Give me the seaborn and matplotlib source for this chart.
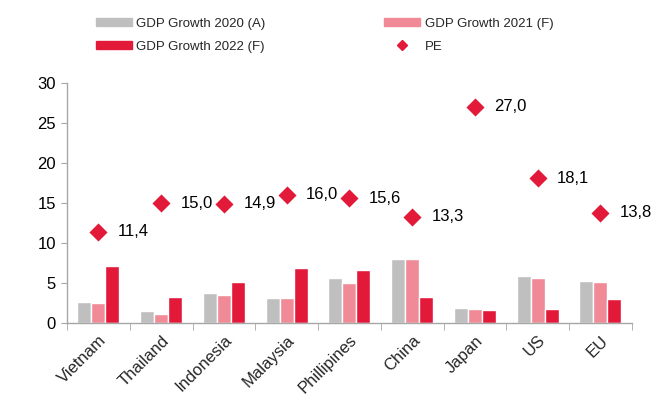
import numpy as np
import pandas as pd
import matplotlib
matplotlib.use("Agg")
import matplotlib.pyplot as plt
import seaborn as sns
from matplotlib.lines import Line2D
from matplotlib.patches import Patch

# Data
countries = ["Vietnam", "Thailand", "Indonesia", "Malaysia", "Phillipines",
             "China", "Japan", "US", "EU"]
gdp_2020 = [2.6, 1.45, 3.75, 3.1, 5.65, 8.05, 1.85, 5.9, 5.25]
gdp_2021 = [2.45, 1.1, 3.5, 3.1, 5.0, 8.05, 1.7, 5.65, 5.1]
gdp_2022 = [7.15, 3.25, 5.1, 6.9, 6.65, 3.25, 1.6, 1.7, 3.0]
pe = [11.4, 15.0, 14.9, 16.0, 15.6, 13.3, 27.0, 18.1, 13.8]
pe_labels = ["11,4", "15,0", "14,9", "16,0", "15,6", "13,3", "27,0", "18,1", "13,8"]

series_names = ["GDP Growth 2020 (A)", "GDP Growth 2021 (F)", "GDP Growth 2022 (F)"]
colors = ["#BFBFBF", "#F08A96", "#E3193A"]
pe_color = "#E3193A"
axis_color = "#A6A6A6"

df = pd.DataFrame({
    "Country": countries * 3,
    "Series": np.repeat(series_names, len(countries)),
    "Value": gdp_2020 + gdp_2021 + gdp_2022,
})

sns.set_style("white")
plt.rcParams["font.family"] = ["Liberation Sans", "DejaVu Sans"]

fig = plt.figure(figsize=(6.7, 4.08), dpi=100)
ax = fig.add_axes([0.1, 0.2083, 0.843, 0.5883])

sns.barplot(data=df, x="Country", y="Value", hue="Series", palette=colors,
            width=0.67, gap=0, saturation=1, legend=False, ax=ax, errorbar=None)

x = np.arange(len(countries))
ax.scatter(x, pe, marker="D", s=85, color=pe_color, zorder=3, linewidths=0)
for xi, yi, lab in zip(x, pe, pe_labels):
    ax.annotate(lab, (xi, yi), xytext=(14, 0), textcoords="offset points",
                va="center", ha="left", fontsize=12, color="black")

ax.set_ylim(0, 30)
ax.set_yticks(range(0, 31, 5))
ax.set_xlim(-0.5, len(countries) - 0.5)
ax.set_xlabel("")
ax.set_ylabel("")

for side in ["top", "right"]:
    ax.spines[side].set_visible(False)
for side in ["left", "bottom"]:
    ax.spines[side].set_color(axis_color)
    ax.spines[side].set_linewidth(1)

ax.tick_params(axis="y", which="major", left=True, length=4, color=axis_color,
               labelsize=12, labelcolor="black", pad=4)
ax.set_xticks(x)
ax.set_xticks(np.arange(-0.5, len(countries), 1), minor=True)
ax.tick_params(axis="x", which="major", bottom=False, length=0, labelsize=12, pad=7)
ax.tick_params(axis="x", which="minor", bottom=True, length=5, color=axis_color)
ax.set_xticklabels(countries, rotation=45, ha="right", rotation_mode="anchor")

# legend filled column-wise, so order gives rows: 2020 | 2021, 2022 | PE
handles = [Patch(color=colors[0]), Patch(color=colors[2]),
           Patch(color=colors[1]),
           Line2D([], [], marker="D", linestyle="none", color=pe_color, markersize=5)]
labels = [series_names[0], series_names[2], series_names[1], "PE"]
fig.legend(handles, labels, loc="upper left", bbox_to_anchor=(0.1335, 0.972), ncol=2,
           frameon=False, fontsize=9.5, handlelength=2.7, handleheight=0.55,
           columnspacing=9.0, labelspacing=0.8, handletextpad=0.35, borderpad=0)

fig.savefig("out.png", dpi=100)
